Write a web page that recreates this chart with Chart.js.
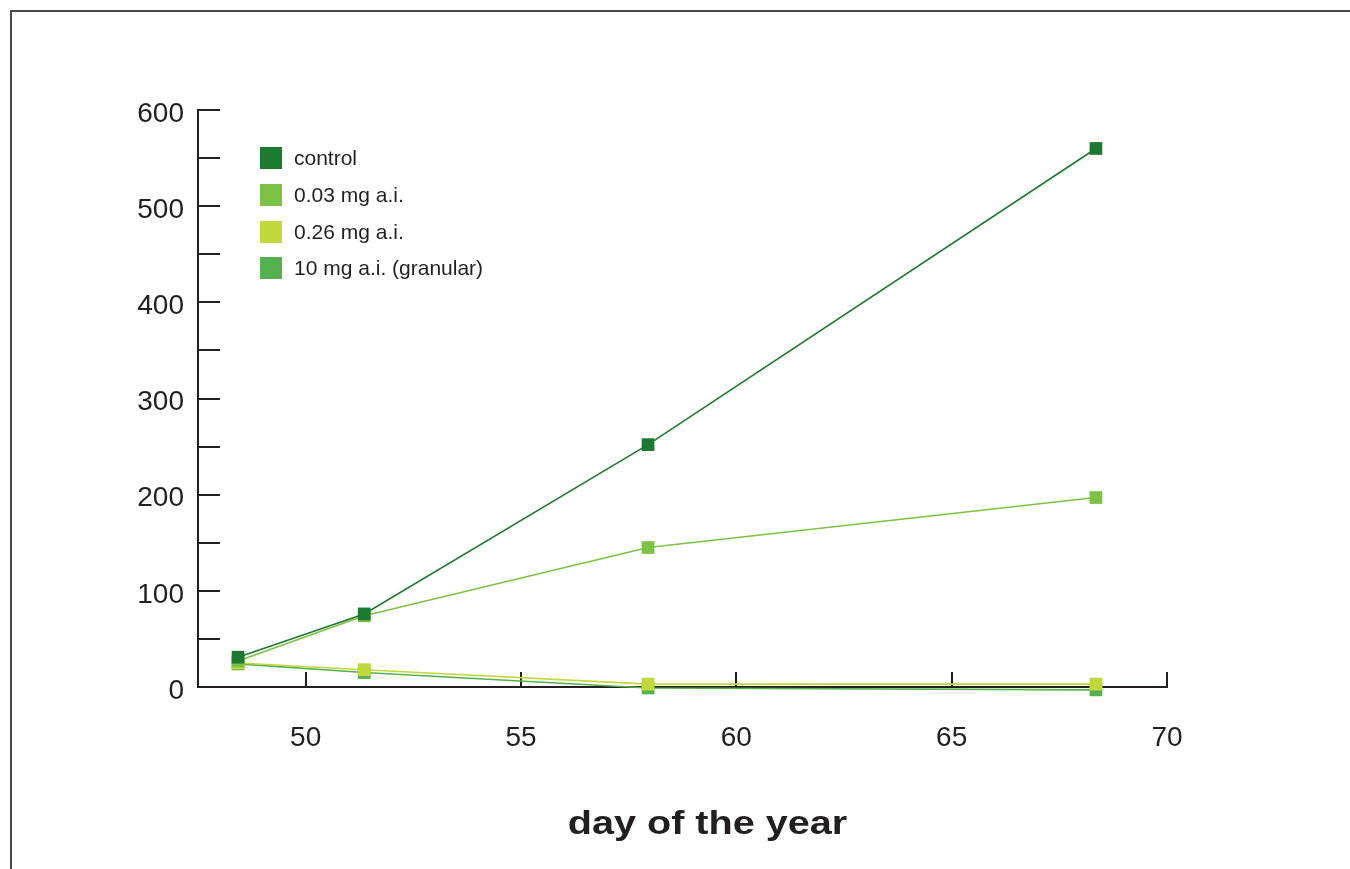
<!DOCTYPE html>
<html>
<head>
<meta charset="utf-8">
<script src="https://cdn.jsdelivr.net/npm/chart.js@4/dist/chart.umd.min.js"></script>
<style>
  body { margin: 0; background: #fff; }
  #wrap { position: relative; width: 1350px; height: 869px; overflow: hidden; }
  #frame { position: absolute; left: 10px; top: 10px; width: 1340px; height: 859px;
           border-top: 2px solid #4a4a4a; border-left: 2px solid #4a4a4a; box-sizing: border-box; }
  canvas { position: absolute; left: 0; top: 0; }
</style>
</head>
<body>
<div id="wrap">
  <div id="frame"></div>
  <canvas id="chart" width="1350" height="869"></canvas>
</div>
<script>
// --- datos ---
const days = [48.43, 51.36, 57.95, 68.35];
const seriesNames = ['control', '0.03 mg a.i.', '0.26 mg a.i.', '10 mg a.i. (granular)'];
const control = [31, 76, 252, 560];
const dose003 = [27, 74, 145, 197];
const dose026 = [25, 18, 3, 3];
const granular = [24, 15, -1, -3];
const seriesColors = ['#1b7a2f', '#7cc243', '#c1d83b', '#55b04e'];

const xTicks = [50, 55, 60, 65, 70];
const yTicks = [0, 50, 100, 150, 200, 250, 300, 350, 400, 450, 500, 550, 600];
const yLabelled = [0, 100, 200, 300, 400, 500, 600];
const xTitle = 'day of the year';

const INK = '#231f20';
const FONT = "'Liberation Sans', Arial, Helvetica, sans-serif";

const toPoints = vals => days.map((d, i) => ({ x: d, y: vals[i] }));

const datasets = [control, dose003, dose026, granular].map((vals, i) => ({
    label: seriesNames[i],
    data: toPoints(vals),
    borderColor: seriesColors[i],
    backgroundColor: seriesColors[i],
    borderWidth: 1.6,
    pointStyle: 'rect',
    pointRadius: 9,
    pointBorderWidth: 0,
    pointBackgroundColor: seriesColors[i],
    tension: 0,
    clip: false
}));

// leyenda dentro del área y título del eje x
const decorPlugin = {
    id: 'decor',
    afterDraw(chart) {
        const ctx = chart.ctx;
        ctx.save();
        // leyenda
        const rowsY = [158, 195, 232, 268];
        chart.data.datasets.forEach((ds, i) => {
            ctx.fillStyle = ds.backgroundColor;
            ctx.fillRect(260, rowsY[i] - 11, 22, 22);
            ctx.fillStyle = INK;
            ctx.font = `21px ${FONT}`;
            ctx.textAlign = 'left';
            ctx.textBaseline = 'middle';
            ctx.fillText(ds.label, 294, rowsY[i] + 1);
        });
        // título
        ctx.translate(707.5, 834);
        ctx.scale(1.2, 1);
        ctx.font = `bold 33px ${FONT}`;
        ctx.textAlign = 'center';
        ctx.textBaseline = 'alphabetic';
        ctx.fillStyle = INK;
        ctx.fillText(xTitle, 0, 0);
        ctx.restore();
    }
};

new Chart(document.getElementById('chart'), {
    type: 'line',
    data: { datasets },
    options: {
        responsive: false,
        animation: false,
        events: [],
        layout: { padding: { top: 110, right: 183, left: 0, bottom: 0 } },
        plugins: { legend: { display: false }, tooltip: { enabled: false } },
        scales: {
            x: {
                type: 'linear',
                min: 47.5,
                max: 70,
                afterBuildTicks: s => { s.ticks = xTicks.map(v => ({ value: v })); },
                afterFit: s => { s.height = 182; },
                border: { color: INK, width: 2 },
                grid: { drawOnChartArea: false, drawTicks: true, tickLength: -15, color: INK, lineWidth: 2 },
                ticks: {
                    color: INK,
                    font: { family: FONT, size: 28 },
                    padding: 49,
                    maxRotation: 0,
                    callback: v => String(v)
                }
            },
            y: {
                min: 0,
                max: 600,
                afterBuildTicks: s => { s.ticks = yTicks.map(v => ({ value: v })); },
                afterFit: s => { s.width = 198; },
                border: { color: INK, width: 2 },
                grid: { drawOnChartArea: false, drawTicks: true, tickLength: -22, color: INK, lineWidth: 2 },
                ticks: {
                    color: INK,
                    font: { family: FONT, size: 28 },
                    padding: 36,
                    labelOffset: 4,
                    callback: v => yLabelled.includes(v) ? String(v) : ''
                }
            }
        }
    },
    plugins: [decorPlugin]
});
</script>
</body>
</html>
